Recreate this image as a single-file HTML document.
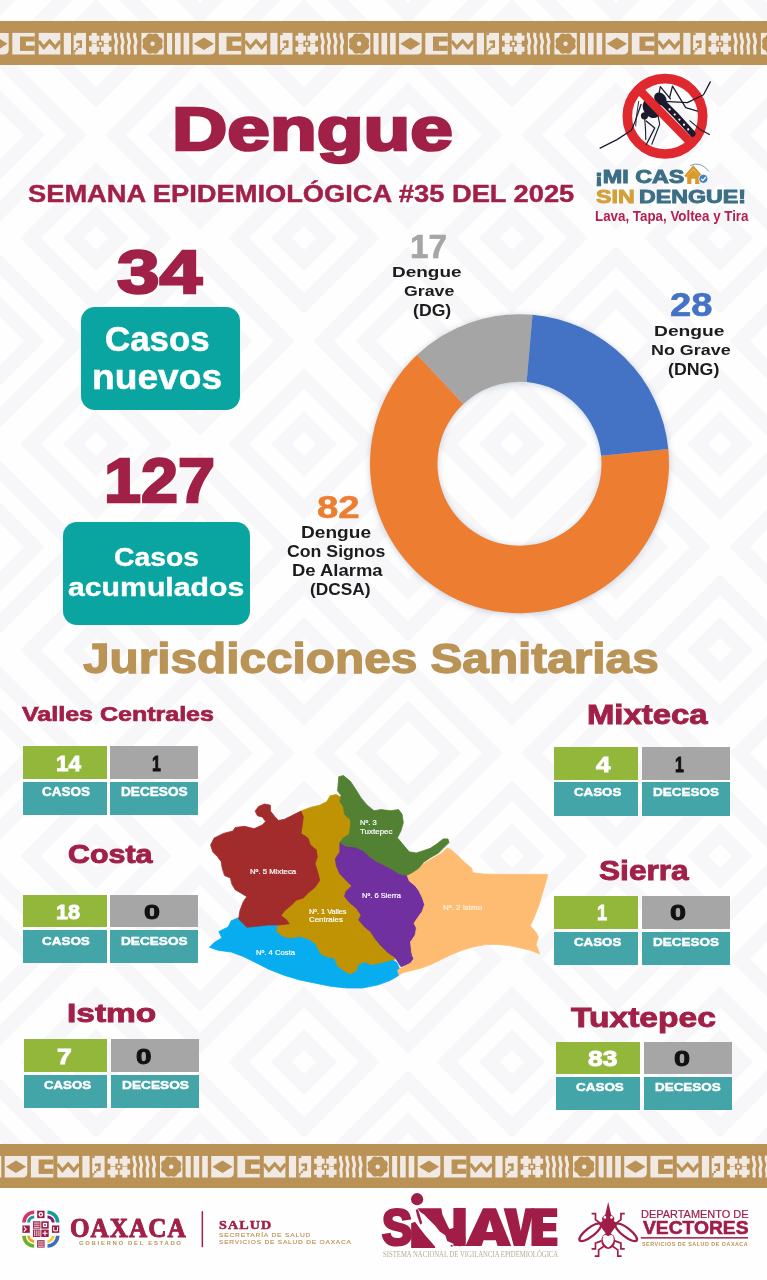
<!DOCTYPE html>
<html lang="es"><head><meta charset="utf-8"><title>Dengue - Semana Epidemiológica 35</title>
<style>
html,body{margin:0;padding:0;background:#fff}
#p{position:relative;width:767px;height:1280px;overflow:hidden;background:#fefefe;font-family:"Liberation Sans",sans-serif;font-kerning:none}
.t{position:absolute;white-space:nowrap;transform-origin:0 0;font-kerning:none;paint-order:stroke fill}
.b{position:absolute}
.band{position:absolute;left:0}
.rb{position:absolute;background:#0aa5a0;border-radius:14px}
svg{position:absolute;left:0;top:0}
</style></head><body>
<div id="p">
<svg width="767" height="1280" viewBox="0 0 767 1280"><defs><pattern id="bgp" x="96" y="32" width="208" height="206" patternUnits="userSpaceOnUse"><path d="M-22.5 0 L0 -22.5 L22.5 0 L0 22.5 Z" fill="none" stroke="#f7f7f9" stroke-width="14.85" stroke-linejoin="miter"/><path d="M-65.5 0 L0 -65.5 L65.5 0 L0 65.5 Z" fill="none" stroke="#f7f7f9" stroke-width="14.85" stroke-linejoin="miter"/><path d="M185.5 0 L208 -22.5 L230.5 0 L208 22.5 Z" fill="none" stroke="#f7f7f9" stroke-width="14.85" stroke-linejoin="miter"/><path d="M142.5 0 L208 -65.5 L273.5 0 L208 65.5 Z" fill="none" stroke="#f7f7f9" stroke-width="14.85" stroke-linejoin="miter"/><path d="M-22.5 206 L0 183.5 L22.5 206 L0 228.5 Z" fill="none" stroke="#f7f7f9" stroke-width="14.85" stroke-linejoin="miter"/><path d="M-65.5 206 L0 140.5 L65.5 206 L0 271.5 Z" fill="none" stroke="#f7f7f9" stroke-width="14.85" stroke-linejoin="miter"/><path d="M185.5 206 L208 183.5 L230.5 206 L208 228.5 Z" fill="none" stroke="#f7f7f9" stroke-width="14.85" stroke-linejoin="miter"/><path d="M142.5 206 L208 140.5 L273.5 206 L208 271.5 Z" fill="none" stroke="#f7f7f9" stroke-width="14.85" stroke-linejoin="miter"/><path d="M61.5 103.0 L104.0 60.5 L146.5 103.0 L104.0 145.5 Z" fill="none" stroke="#f7f7f9" stroke-width="14.85" stroke-linejoin="miter"/><path d="M19.5 103.0 L104.0 18.5 L188.5 103.0 L104.0 187.5 Z" fill="none" stroke="#f7f7f9" stroke-width="14.85" stroke-linejoin="miter"/></pattern></defs><rect width="767" height="1188" fill="url(#bgp)"/></svg>
<svg class="band" style="top:20.5px" width="767" height="44" viewBox="0 0 767 44"><rect width="767" height="44" fill="#ba9256"/><g transform="translate(-220.40,0)"><path d="M0 11.9 H22.6 V28.5 Q22.6 33.5 17.6 33.5 H0 Z" fill="#f1e9e4"/><path d="M1.2 22.7 L11.3 16.4 L21.4 22.7 L11.3 29.0 Z" fill="#ba9256"/><rect x="26.20" y="11.90" width="22.40" height="21.60" fill="#f1e9e4" /><rect x="33.90" y="15.50" width="14.70" height="14.40" fill="#ba9256" /><rect x="39.80" y="20.50" width="8.80" height="4.20" fill="#f1e9e4" /><rect x="52.60" y="11.90" width="21.60" height="21.60" fill="#f1e9e4" /><path d="M52.6 19.9 L57.7 26.4 L63.5 19.9 L69.1 26.4 L74.2 19.9" fill="none" stroke="#ba9256" stroke-width="3.2"/><rect x="77.70" y="11.90" width="7.20" height="21.60" fill="#f1e9e4" /><rect x="87.50" y="11.90" width="12.40" height="21.60" fill="#f1e9e4" /><rect x="87.50" y="11.90" width="2.50" height="2.20" fill="#ba9256" /><rect x="87.50" y="29.10" width="2.20" height="2.20" fill="#ba9256" /><rect x="89.50" y="26.90" width="2.20" height="2.20" fill="#ba9256" /><rect x="91.50" y="24.70" width="2.20" height="2.40" fill="#ba9256" /><rect x="90.20" y="19.50" width="5.50" height="2.60" fill="#ba9256" /><rect x="93.50" y="19.50" width="2.40" height="7.40" fill="#ba9256" /><rect x="87.50" y="31.30" width="1.20" height="2.20" fill="#ba9256" /><rect x="102.90" y="14.60" width="10.50" height="5.10" fill="#f1e9e4" /><rect x="105.60" y="11.90" width="5.10" height="10.50" fill="#f1e9e4" /><rect x="114.90" y="14.60" width="10.50" height="5.10" fill="#f1e9e4" /><rect x="117.60" y="11.90" width="5.10" height="10.50" fill="#f1e9e4" /><rect x="102.90" y="25.70" width="10.50" height="5.10" fill="#f1e9e4" /><rect x="105.60" y="23.00" width="5.10" height="10.50" fill="#f1e9e4" /><rect x="114.90" y="25.70" width="10.50" height="5.10" fill="#f1e9e4" /><rect x="117.60" y="23.00" width="5.10" height="10.50" fill="#f1e9e4" /><rect x="112.05" y="20.60" width="4.20" height="4.20" fill="#ba9256" /><rect x="112.65" y="21.20" width="3.00" height="3.00" fill="#f1e9e4" /><path d="M129.6 11.9 C127.6 16.9 132.2 18.9 130.2 22.9 C128.0 26.9 131.6 28.9 129.6 33.5" fill="none" stroke="#f1e9e4" stroke-width="3.1"/><path d="M135.9 11.9 C133.9 16.9 138.5 18.9 136.5 22.9 C134.3 26.9 137.9 28.9 135.9 33.5" fill="none" stroke="#f1e9e4" stroke-width="3.1"/><path d="M142.4 11.9 C140.4 16.9 145.0 18.9 143.0 22.9 C140.8 26.9 144.4 28.9 142.4 33.5" fill="none" stroke="#f1e9e4" stroke-width="3.1"/><path d="M148.9 11.9 C146.9 16.9 151.5 18.9 149.5 22.9 C147.3 26.9 150.9 28.9 148.9 33.5" fill="none" stroke="#f1e9e4" stroke-width="3.1"/><rect x="155.30" y="11.90" width="22.40" height="21.60" fill="#f1e9e4" /><path d="M166.50 13.30 Q171.32 11.06 173.15 16.05 Q178.14 17.88 175.90 22.70 Q178.14 27.52 173.15 29.35 Q171.32 34.34 166.50 32.10 Q161.68 34.34 159.85 29.35 Q154.86 27.52 157.10 22.70 Q154.86 17.88 159.85 16.05 Q161.68 11.06 166.50 13.30 Z" fill="#ba9256"/><circle cx="166.5" cy="22.7" r="2.2" fill="#f1e9e4"/><path d="M180.9 11.9 H186.0 V33.5 H183.4 Q180.9 33.5 180.9 31.0 Z" fill="#f1e9e4"/><rect x="188.90" y="11.90" width="5.60" height="21.60" fill="#f1e9e4" /><rect x="197.50" y="11.90" width="5.60" height="21.60" fill="#f1e9e4" /></g><g transform="translate(-13.90,0)"><path d="M0 11.9 H22.6 V28.5 Q22.6 33.5 17.6 33.5 H0 Z" fill="#f1e9e4"/><path d="M1.2 22.7 L11.3 16.4 L21.4 22.7 L11.3 29.0 Z" fill="#ba9256"/><rect x="26.20" y="11.90" width="22.40" height="21.60" fill="#f1e9e4" /><rect x="33.90" y="15.50" width="14.70" height="14.40" fill="#ba9256" /><rect x="39.80" y="20.50" width="8.80" height="4.20" fill="#f1e9e4" /><rect x="52.60" y="11.90" width="21.60" height="21.60" fill="#f1e9e4" /><path d="M52.6 19.9 L57.7 26.4 L63.5 19.9 L69.1 26.4 L74.2 19.9" fill="none" stroke="#ba9256" stroke-width="3.2"/><rect x="77.70" y="11.90" width="7.20" height="21.60" fill="#f1e9e4" /><rect x="87.50" y="11.90" width="12.40" height="21.60" fill="#f1e9e4" /><rect x="87.50" y="11.90" width="2.50" height="2.20" fill="#ba9256" /><rect x="87.50" y="29.10" width="2.20" height="2.20" fill="#ba9256" /><rect x="89.50" y="26.90" width="2.20" height="2.20" fill="#ba9256" /><rect x="91.50" y="24.70" width="2.20" height="2.40" fill="#ba9256" /><rect x="90.20" y="19.50" width="5.50" height="2.60" fill="#ba9256" /><rect x="93.50" y="19.50" width="2.40" height="7.40" fill="#ba9256" /><rect x="87.50" y="31.30" width="1.20" height="2.20" fill="#ba9256" /><rect x="102.90" y="14.60" width="10.50" height="5.10" fill="#f1e9e4" /><rect x="105.60" y="11.90" width="5.10" height="10.50" fill="#f1e9e4" /><rect x="114.90" y="14.60" width="10.50" height="5.10" fill="#f1e9e4" /><rect x="117.60" y="11.90" width="5.10" height="10.50" fill="#f1e9e4" /><rect x="102.90" y="25.70" width="10.50" height="5.10" fill="#f1e9e4" /><rect x="105.60" y="23.00" width="5.10" height="10.50" fill="#f1e9e4" /><rect x="114.90" y="25.70" width="10.50" height="5.10" fill="#f1e9e4" /><rect x="117.60" y="23.00" width="5.10" height="10.50" fill="#f1e9e4" /><rect x="112.05" y="20.60" width="4.20" height="4.20" fill="#ba9256" /><rect x="112.65" y="21.20" width="3.00" height="3.00" fill="#f1e9e4" /><path d="M129.6 11.9 C127.6 16.9 132.2 18.9 130.2 22.9 C128.0 26.9 131.6 28.9 129.6 33.5" fill="none" stroke="#f1e9e4" stroke-width="3.1"/><path d="M135.9 11.9 C133.9 16.9 138.5 18.9 136.5 22.9 C134.3 26.9 137.9 28.9 135.9 33.5" fill="none" stroke="#f1e9e4" stroke-width="3.1"/><path d="M142.4 11.9 C140.4 16.9 145.0 18.9 143.0 22.9 C140.8 26.9 144.4 28.9 142.4 33.5" fill="none" stroke="#f1e9e4" stroke-width="3.1"/><path d="M148.9 11.9 C146.9 16.9 151.5 18.9 149.5 22.9 C147.3 26.9 150.9 28.9 148.9 33.5" fill="none" stroke="#f1e9e4" stroke-width="3.1"/><rect x="155.30" y="11.90" width="22.40" height="21.60" fill="#f1e9e4" /><path d="M166.50 13.30 Q171.32 11.06 173.15 16.05 Q178.14 17.88 175.90 22.70 Q178.14 27.52 173.15 29.35 Q171.32 34.34 166.50 32.10 Q161.68 34.34 159.85 29.35 Q154.86 27.52 157.10 22.70 Q154.86 17.88 159.85 16.05 Q161.68 11.06 166.50 13.30 Z" fill="#ba9256"/><circle cx="166.5" cy="22.7" r="2.2" fill="#f1e9e4"/><path d="M180.9 11.9 H186.0 V33.5 H183.4 Q180.9 33.5 180.9 31.0 Z" fill="#f1e9e4"/><rect x="188.90" y="11.90" width="5.60" height="21.60" fill="#f1e9e4" /><rect x="197.50" y="11.90" width="5.60" height="21.60" fill="#f1e9e4" /></g><g transform="translate(192.60,0)"><path d="M0 11.9 H22.6 V28.5 Q22.6 33.5 17.6 33.5 H0 Z" fill="#f1e9e4"/><path d="M1.2 22.7 L11.3 16.4 L21.4 22.7 L11.3 29.0 Z" fill="#ba9256"/><rect x="26.20" y="11.90" width="22.40" height="21.60" fill="#f1e9e4" /><rect x="33.90" y="15.50" width="14.70" height="14.40" fill="#ba9256" /><rect x="39.80" y="20.50" width="8.80" height="4.20" fill="#f1e9e4" /><rect x="52.60" y="11.90" width="21.60" height="21.60" fill="#f1e9e4" /><path d="M52.6 19.9 L57.7 26.4 L63.5 19.9 L69.1 26.4 L74.2 19.9" fill="none" stroke="#ba9256" stroke-width="3.2"/><rect x="77.70" y="11.90" width="7.20" height="21.60" fill="#f1e9e4" /><rect x="87.50" y="11.90" width="12.40" height="21.60" fill="#f1e9e4" /><rect x="87.50" y="11.90" width="2.50" height="2.20" fill="#ba9256" /><rect x="87.50" y="29.10" width="2.20" height="2.20" fill="#ba9256" /><rect x="89.50" y="26.90" width="2.20" height="2.20" fill="#ba9256" /><rect x="91.50" y="24.70" width="2.20" height="2.40" fill="#ba9256" /><rect x="90.20" y="19.50" width="5.50" height="2.60" fill="#ba9256" /><rect x="93.50" y="19.50" width="2.40" height="7.40" fill="#ba9256" /><rect x="87.50" y="31.30" width="1.20" height="2.20" fill="#ba9256" /><rect x="102.90" y="14.60" width="10.50" height="5.10" fill="#f1e9e4" /><rect x="105.60" y="11.90" width="5.10" height="10.50" fill="#f1e9e4" /><rect x="114.90" y="14.60" width="10.50" height="5.10" fill="#f1e9e4" /><rect x="117.60" y="11.90" width="5.10" height="10.50" fill="#f1e9e4" /><rect x="102.90" y="25.70" width="10.50" height="5.10" fill="#f1e9e4" /><rect x="105.60" y="23.00" width="5.10" height="10.50" fill="#f1e9e4" /><rect x="114.90" y="25.70" width="10.50" height="5.10" fill="#f1e9e4" /><rect x="117.60" y="23.00" width="5.10" height="10.50" fill="#f1e9e4" /><rect x="112.05" y="20.60" width="4.20" height="4.20" fill="#ba9256" /><rect x="112.65" y="21.20" width="3.00" height="3.00" fill="#f1e9e4" /><path d="M129.6 11.9 C127.6 16.9 132.2 18.9 130.2 22.9 C128.0 26.9 131.6 28.9 129.6 33.5" fill="none" stroke="#f1e9e4" stroke-width="3.1"/><path d="M135.9 11.9 C133.9 16.9 138.5 18.9 136.5 22.9 C134.3 26.9 137.9 28.9 135.9 33.5" fill="none" stroke="#f1e9e4" stroke-width="3.1"/><path d="M142.4 11.9 C140.4 16.9 145.0 18.9 143.0 22.9 C140.8 26.9 144.4 28.9 142.4 33.5" fill="none" stroke="#f1e9e4" stroke-width="3.1"/><path d="M148.9 11.9 C146.9 16.9 151.5 18.9 149.5 22.9 C147.3 26.9 150.9 28.9 148.9 33.5" fill="none" stroke="#f1e9e4" stroke-width="3.1"/><rect x="155.30" y="11.90" width="22.40" height="21.60" fill="#f1e9e4" /><path d="M166.50 13.30 Q171.32 11.06 173.15 16.05 Q178.14 17.88 175.90 22.70 Q178.14 27.52 173.15 29.35 Q171.32 34.34 166.50 32.10 Q161.68 34.34 159.85 29.35 Q154.86 27.52 157.10 22.70 Q154.86 17.88 159.85 16.05 Q161.68 11.06 166.50 13.30 Z" fill="#ba9256"/><circle cx="166.5" cy="22.7" r="2.2" fill="#f1e9e4"/><path d="M180.9 11.9 H186.0 V33.5 H183.4 Q180.9 33.5 180.9 31.0 Z" fill="#f1e9e4"/><rect x="188.90" y="11.90" width="5.60" height="21.60" fill="#f1e9e4" /><rect x="197.50" y="11.90" width="5.60" height="21.60" fill="#f1e9e4" /></g><g transform="translate(399.10,0)"><path d="M0 11.9 H22.6 V28.5 Q22.6 33.5 17.6 33.5 H0 Z" fill="#f1e9e4"/><path d="M1.2 22.7 L11.3 16.4 L21.4 22.7 L11.3 29.0 Z" fill="#ba9256"/><rect x="26.20" y="11.90" width="22.40" height="21.60" fill="#f1e9e4" /><rect x="33.90" y="15.50" width="14.70" height="14.40" fill="#ba9256" /><rect x="39.80" y="20.50" width="8.80" height="4.20" fill="#f1e9e4" /><rect x="52.60" y="11.90" width="21.60" height="21.60" fill="#f1e9e4" /><path d="M52.6 19.9 L57.7 26.4 L63.5 19.9 L69.1 26.4 L74.2 19.9" fill="none" stroke="#ba9256" stroke-width="3.2"/><rect x="77.70" y="11.90" width="7.20" height="21.60" fill="#f1e9e4" /><rect x="87.50" y="11.90" width="12.40" height="21.60" fill="#f1e9e4" /><rect x="87.50" y="11.90" width="2.50" height="2.20" fill="#ba9256" /><rect x="87.50" y="29.10" width="2.20" height="2.20" fill="#ba9256" /><rect x="89.50" y="26.90" width="2.20" height="2.20" fill="#ba9256" /><rect x="91.50" y="24.70" width="2.20" height="2.40" fill="#ba9256" /><rect x="90.20" y="19.50" width="5.50" height="2.60" fill="#ba9256" /><rect x="93.50" y="19.50" width="2.40" height="7.40" fill="#ba9256" /><rect x="87.50" y="31.30" width="1.20" height="2.20" fill="#ba9256" /><rect x="102.90" y="14.60" width="10.50" height="5.10" fill="#f1e9e4" /><rect x="105.60" y="11.90" width="5.10" height="10.50" fill="#f1e9e4" /><rect x="114.90" y="14.60" width="10.50" height="5.10" fill="#f1e9e4" /><rect x="117.60" y="11.90" width="5.10" height="10.50" fill="#f1e9e4" /><rect x="102.90" y="25.70" width="10.50" height="5.10" fill="#f1e9e4" /><rect x="105.60" y="23.00" width="5.10" height="10.50" fill="#f1e9e4" /><rect x="114.90" y="25.70" width="10.50" height="5.10" fill="#f1e9e4" /><rect x="117.60" y="23.00" width="5.10" height="10.50" fill="#f1e9e4" /><rect x="112.05" y="20.60" width="4.20" height="4.20" fill="#ba9256" /><rect x="112.65" y="21.20" width="3.00" height="3.00" fill="#f1e9e4" /><path d="M129.6 11.9 C127.6 16.9 132.2 18.9 130.2 22.9 C128.0 26.9 131.6 28.9 129.6 33.5" fill="none" stroke="#f1e9e4" stroke-width="3.1"/><path d="M135.9 11.9 C133.9 16.9 138.5 18.9 136.5 22.9 C134.3 26.9 137.9 28.9 135.9 33.5" fill="none" stroke="#f1e9e4" stroke-width="3.1"/><path d="M142.4 11.9 C140.4 16.9 145.0 18.9 143.0 22.9 C140.8 26.9 144.4 28.9 142.4 33.5" fill="none" stroke="#f1e9e4" stroke-width="3.1"/><path d="M148.9 11.9 C146.9 16.9 151.5 18.9 149.5 22.9 C147.3 26.9 150.9 28.9 148.9 33.5" fill="none" stroke="#f1e9e4" stroke-width="3.1"/><rect x="155.30" y="11.90" width="22.40" height="21.60" fill="#f1e9e4" /><path d="M166.50 13.30 Q171.32 11.06 173.15 16.05 Q178.14 17.88 175.90 22.70 Q178.14 27.52 173.15 29.35 Q171.32 34.34 166.50 32.10 Q161.68 34.34 159.85 29.35 Q154.86 27.52 157.10 22.70 Q154.86 17.88 159.85 16.05 Q161.68 11.06 166.50 13.30 Z" fill="#ba9256"/><circle cx="166.5" cy="22.7" r="2.2" fill="#f1e9e4"/><path d="M180.9 11.9 H186.0 V33.5 H183.4 Q180.9 33.5 180.9 31.0 Z" fill="#f1e9e4"/><rect x="188.90" y="11.90" width="5.60" height="21.60" fill="#f1e9e4" /><rect x="197.50" y="11.90" width="5.60" height="21.60" fill="#f1e9e4" /></g><g transform="translate(605.60,0)"><path d="M0 11.9 H22.6 V28.5 Q22.6 33.5 17.6 33.5 H0 Z" fill="#f1e9e4"/><path d="M1.2 22.7 L11.3 16.4 L21.4 22.7 L11.3 29.0 Z" fill="#ba9256"/><rect x="26.20" y="11.90" width="22.40" height="21.60" fill="#f1e9e4" /><rect x="33.90" y="15.50" width="14.70" height="14.40" fill="#ba9256" /><rect x="39.80" y="20.50" width="8.80" height="4.20" fill="#f1e9e4" /><rect x="52.60" y="11.90" width="21.60" height="21.60" fill="#f1e9e4" /><path d="M52.6 19.9 L57.7 26.4 L63.5 19.9 L69.1 26.4 L74.2 19.9" fill="none" stroke="#ba9256" stroke-width="3.2"/><rect x="77.70" y="11.90" width="7.20" height="21.60" fill="#f1e9e4" /><rect x="87.50" y="11.90" width="12.40" height="21.60" fill="#f1e9e4" /><rect x="87.50" y="11.90" width="2.50" height="2.20" fill="#ba9256" /><rect x="87.50" y="29.10" width="2.20" height="2.20" fill="#ba9256" /><rect x="89.50" y="26.90" width="2.20" height="2.20" fill="#ba9256" /><rect x="91.50" y="24.70" width="2.20" height="2.40" fill="#ba9256" /><rect x="90.20" y="19.50" width="5.50" height="2.60" fill="#ba9256" /><rect x="93.50" y="19.50" width="2.40" height="7.40" fill="#ba9256" /><rect x="87.50" y="31.30" width="1.20" height="2.20" fill="#ba9256" /><rect x="102.90" y="14.60" width="10.50" height="5.10" fill="#f1e9e4" /><rect x="105.60" y="11.90" width="5.10" height="10.50" fill="#f1e9e4" /><rect x="114.90" y="14.60" width="10.50" height="5.10" fill="#f1e9e4" /><rect x="117.60" y="11.90" width="5.10" height="10.50" fill="#f1e9e4" /><rect x="102.90" y="25.70" width="10.50" height="5.10" fill="#f1e9e4" /><rect x="105.60" y="23.00" width="5.10" height="10.50" fill="#f1e9e4" /><rect x="114.90" y="25.70" width="10.50" height="5.10" fill="#f1e9e4" /><rect x="117.60" y="23.00" width="5.10" height="10.50" fill="#f1e9e4" /><rect x="112.05" y="20.60" width="4.20" height="4.20" fill="#ba9256" /><rect x="112.65" y="21.20" width="3.00" height="3.00" fill="#f1e9e4" /><path d="M129.6 11.9 C127.6 16.9 132.2 18.9 130.2 22.9 C128.0 26.9 131.6 28.9 129.6 33.5" fill="none" stroke="#f1e9e4" stroke-width="3.1"/><path d="M135.9 11.9 C133.9 16.9 138.5 18.9 136.5 22.9 C134.3 26.9 137.9 28.9 135.9 33.5" fill="none" stroke="#f1e9e4" stroke-width="3.1"/><path d="M142.4 11.9 C140.4 16.9 145.0 18.9 143.0 22.9 C140.8 26.9 144.4 28.9 142.4 33.5" fill="none" stroke="#f1e9e4" stroke-width="3.1"/><path d="M148.9 11.9 C146.9 16.9 151.5 18.9 149.5 22.9 C147.3 26.9 150.9 28.9 148.9 33.5" fill="none" stroke="#f1e9e4" stroke-width="3.1"/><rect x="155.30" y="11.90" width="22.40" height="21.60" fill="#f1e9e4" /><path d="M166.50 13.30 Q171.32 11.06 173.15 16.05 Q178.14 17.88 175.90 22.70 Q178.14 27.52 173.15 29.35 Q171.32 34.34 166.50 32.10 Q161.68 34.34 159.85 29.35 Q154.86 27.52 157.10 22.70 Q154.86 17.88 159.85 16.05 Q161.68 11.06 166.50 13.30 Z" fill="#ba9256"/><circle cx="166.5" cy="22.7" r="2.2" fill="#f1e9e4"/><path d="M180.9 11.9 H186.0 V33.5 H183.4 Q180.9 33.5 180.9 31.0 Z" fill="#f1e9e4"/><rect x="188.90" y="11.90" width="5.60" height="21.60" fill="#f1e9e4" /><rect x="197.50" y="11.90" width="5.60" height="21.60" fill="#f1e9e4" /></g><g transform="translate(812.10,0)"><path d="M0 11.9 H22.6 V28.5 Q22.6 33.5 17.6 33.5 H0 Z" fill="#f1e9e4"/><path d="M1.2 22.7 L11.3 16.4 L21.4 22.7 L11.3 29.0 Z" fill="#ba9256"/><rect x="26.20" y="11.90" width="22.40" height="21.60" fill="#f1e9e4" /><rect x="33.90" y="15.50" width="14.70" height="14.40" fill="#ba9256" /><rect x="39.80" y="20.50" width="8.80" height="4.20" fill="#f1e9e4" /><rect x="52.60" y="11.90" width="21.60" height="21.60" fill="#f1e9e4" /><path d="M52.6 19.9 L57.7 26.4 L63.5 19.9 L69.1 26.4 L74.2 19.9" fill="none" stroke="#ba9256" stroke-width="3.2"/><rect x="77.70" y="11.90" width="7.20" height="21.60" fill="#f1e9e4" /><rect x="87.50" y="11.90" width="12.40" height="21.60" fill="#f1e9e4" /><rect x="87.50" y="11.90" width="2.50" height="2.20" fill="#ba9256" /><rect x="87.50" y="29.10" width="2.20" height="2.20" fill="#ba9256" /><rect x="89.50" y="26.90" width="2.20" height="2.20" fill="#ba9256" /><rect x="91.50" y="24.70" width="2.20" height="2.40" fill="#ba9256" /><rect x="90.20" y="19.50" width="5.50" height="2.60" fill="#ba9256" /><rect x="93.50" y="19.50" width="2.40" height="7.40" fill="#ba9256" /><rect x="87.50" y="31.30" width="1.20" height="2.20" fill="#ba9256" /><rect x="102.90" y="14.60" width="10.50" height="5.10" fill="#f1e9e4" /><rect x="105.60" y="11.90" width="5.10" height="10.50" fill="#f1e9e4" /><rect x="114.90" y="14.60" width="10.50" height="5.10" fill="#f1e9e4" /><rect x="117.60" y="11.90" width="5.10" height="10.50" fill="#f1e9e4" /><rect x="102.90" y="25.70" width="10.50" height="5.10" fill="#f1e9e4" /><rect x="105.60" y="23.00" width="5.10" height="10.50" fill="#f1e9e4" /><rect x="114.90" y="25.70" width="10.50" height="5.10" fill="#f1e9e4" /><rect x="117.60" y="23.00" width="5.10" height="10.50" fill="#f1e9e4" /><rect x="112.05" y="20.60" width="4.20" height="4.20" fill="#ba9256" /><rect x="112.65" y="21.20" width="3.00" height="3.00" fill="#f1e9e4" /><path d="M129.6 11.9 C127.6 16.9 132.2 18.9 130.2 22.9 C128.0 26.9 131.6 28.9 129.6 33.5" fill="none" stroke="#f1e9e4" stroke-width="3.1"/><path d="M135.9 11.9 C133.9 16.9 138.5 18.9 136.5 22.9 C134.3 26.9 137.9 28.9 135.9 33.5" fill="none" stroke="#f1e9e4" stroke-width="3.1"/><path d="M142.4 11.9 C140.4 16.9 145.0 18.9 143.0 22.9 C140.8 26.9 144.4 28.9 142.4 33.5" fill="none" stroke="#f1e9e4" stroke-width="3.1"/><path d="M148.9 11.9 C146.9 16.9 151.5 18.9 149.5 22.9 C147.3 26.9 150.9 28.9 148.9 33.5" fill="none" stroke="#f1e9e4" stroke-width="3.1"/><rect x="155.30" y="11.90" width="22.40" height="21.60" fill="#f1e9e4" /><path d="M166.50 13.30 Q171.32 11.06 173.15 16.05 Q178.14 17.88 175.90 22.70 Q178.14 27.52 173.15 29.35 Q171.32 34.34 166.50 32.10 Q161.68 34.34 159.85 29.35 Q154.86 27.52 157.10 22.70 Q154.86 17.88 159.85 16.05 Q161.68 11.06 166.50 13.30 Z" fill="#ba9256"/><circle cx="166.5" cy="22.7" r="2.2" fill="#f1e9e4"/><path d="M180.9 11.9 H186.0 V33.5 H183.4 Q180.9 33.5 180.9 31.0 Z" fill="#f1e9e4"/><rect x="188.90" y="11.90" width="5.60" height="21.60" fill="#f1e9e4" /><rect x="197.50" y="11.90" width="5.60" height="21.60" fill="#f1e9e4" /></g></svg>
<svg class="band" style="top:1144px" width="767" height="44" viewBox="0 0 767 44"><rect width="767" height="44" fill="#ba9256"/><g transform="translate(-201.80,0)"><path d="M0 11.9 H22.6 V28.5 Q22.6 33.5 17.6 33.5 H0 Z" fill="#f1e9e4"/><path d="M1.2 22.7 L11.3 16.4 L21.4 22.7 L11.3 29.0 Z" fill="#ba9256"/><rect x="26.20" y="11.90" width="22.40" height="21.60" fill="#f1e9e4" /><rect x="33.90" y="15.50" width="14.70" height="14.40" fill="#ba9256" /><rect x="39.80" y="20.50" width="8.80" height="4.20" fill="#f1e9e4" /><rect x="52.60" y="11.90" width="21.60" height="21.60" fill="#f1e9e4" /><path d="M52.6 19.9 L57.7 26.4 L63.5 19.9 L69.1 26.4 L74.2 19.9" fill="none" stroke="#ba9256" stroke-width="3.2"/><rect x="77.70" y="11.90" width="7.20" height="21.60" fill="#f1e9e4" /><rect x="87.50" y="11.90" width="12.40" height="21.60" fill="#f1e9e4" /><rect x="87.50" y="11.90" width="2.50" height="2.20" fill="#ba9256" /><rect x="87.50" y="29.10" width="2.20" height="2.20" fill="#ba9256" /><rect x="89.50" y="26.90" width="2.20" height="2.20" fill="#ba9256" /><rect x="91.50" y="24.70" width="2.20" height="2.40" fill="#ba9256" /><rect x="90.20" y="19.50" width="5.50" height="2.60" fill="#ba9256" /><rect x="93.50" y="19.50" width="2.40" height="7.40" fill="#ba9256" /><rect x="87.50" y="31.30" width="1.20" height="2.20" fill="#ba9256" /><rect x="102.90" y="14.60" width="10.50" height="5.10" fill="#f1e9e4" /><rect x="105.60" y="11.90" width="5.10" height="10.50" fill="#f1e9e4" /><rect x="114.90" y="14.60" width="10.50" height="5.10" fill="#f1e9e4" /><rect x="117.60" y="11.90" width="5.10" height="10.50" fill="#f1e9e4" /><rect x="102.90" y="25.70" width="10.50" height="5.10" fill="#f1e9e4" /><rect x="105.60" y="23.00" width="5.10" height="10.50" fill="#f1e9e4" /><rect x="114.90" y="25.70" width="10.50" height="5.10" fill="#f1e9e4" /><rect x="117.60" y="23.00" width="5.10" height="10.50" fill="#f1e9e4" /><rect x="112.05" y="20.60" width="4.20" height="4.20" fill="#ba9256" /><rect x="112.65" y="21.20" width="3.00" height="3.00" fill="#f1e9e4" /><path d="M129.6 11.9 C127.6 16.9 132.2 18.9 130.2 22.9 C128.0 26.9 131.6 28.9 129.6 33.5" fill="none" stroke="#f1e9e4" stroke-width="3.1"/><path d="M135.9 11.9 C133.9 16.9 138.5 18.9 136.5 22.9 C134.3 26.9 137.9 28.9 135.9 33.5" fill="none" stroke="#f1e9e4" stroke-width="3.1"/><path d="M142.4 11.9 C140.4 16.9 145.0 18.9 143.0 22.9 C140.8 26.9 144.4 28.9 142.4 33.5" fill="none" stroke="#f1e9e4" stroke-width="3.1"/><path d="M148.9 11.9 C146.9 16.9 151.5 18.9 149.5 22.9 C147.3 26.9 150.9 28.9 148.9 33.5" fill="none" stroke="#f1e9e4" stroke-width="3.1"/><rect x="155.30" y="11.90" width="22.40" height="21.60" fill="#f1e9e4" /><path d="M166.50 13.30 Q171.32 11.06 173.15 16.05 Q178.14 17.88 175.90 22.70 Q178.14 27.52 173.15 29.35 Q171.32 34.34 166.50 32.10 Q161.68 34.34 159.85 29.35 Q154.86 27.52 157.10 22.70 Q154.86 17.88 159.85 16.05 Q161.68 11.06 166.50 13.30 Z" fill="#ba9256"/><circle cx="166.5" cy="22.7" r="2.2" fill="#f1e9e4"/><path d="M180.9 11.9 H186.0 V33.5 H183.4 Q180.9 33.5 180.9 31.0 Z" fill="#f1e9e4"/><rect x="188.90" y="11.90" width="5.60" height="21.60" fill="#f1e9e4" /><rect x="197.50" y="11.90" width="5.60" height="21.60" fill="#f1e9e4" /></g><g transform="translate(4.70,0)"><path d="M0 11.9 H22.6 V28.5 Q22.6 33.5 17.6 33.5 H0 Z" fill="#f1e9e4"/><path d="M1.2 22.7 L11.3 16.4 L21.4 22.7 L11.3 29.0 Z" fill="#ba9256"/><rect x="26.20" y="11.90" width="22.40" height="21.60" fill="#f1e9e4" /><rect x="33.90" y="15.50" width="14.70" height="14.40" fill="#ba9256" /><rect x="39.80" y="20.50" width="8.80" height="4.20" fill="#f1e9e4" /><rect x="52.60" y="11.90" width="21.60" height="21.60" fill="#f1e9e4" /><path d="M52.6 19.9 L57.7 26.4 L63.5 19.9 L69.1 26.4 L74.2 19.9" fill="none" stroke="#ba9256" stroke-width="3.2"/><rect x="77.70" y="11.90" width="7.20" height="21.60" fill="#f1e9e4" /><rect x="87.50" y="11.90" width="12.40" height="21.60" fill="#f1e9e4" /><rect x="87.50" y="11.90" width="2.50" height="2.20" fill="#ba9256" /><rect x="87.50" y="29.10" width="2.20" height="2.20" fill="#ba9256" /><rect x="89.50" y="26.90" width="2.20" height="2.20" fill="#ba9256" /><rect x="91.50" y="24.70" width="2.20" height="2.40" fill="#ba9256" /><rect x="90.20" y="19.50" width="5.50" height="2.60" fill="#ba9256" /><rect x="93.50" y="19.50" width="2.40" height="7.40" fill="#ba9256" /><rect x="87.50" y="31.30" width="1.20" height="2.20" fill="#ba9256" /><rect x="102.90" y="14.60" width="10.50" height="5.10" fill="#f1e9e4" /><rect x="105.60" y="11.90" width="5.10" height="10.50" fill="#f1e9e4" /><rect x="114.90" y="14.60" width="10.50" height="5.10" fill="#f1e9e4" /><rect x="117.60" y="11.90" width="5.10" height="10.50" fill="#f1e9e4" /><rect x="102.90" y="25.70" width="10.50" height="5.10" fill="#f1e9e4" /><rect x="105.60" y="23.00" width="5.10" height="10.50" fill="#f1e9e4" /><rect x="114.90" y="25.70" width="10.50" height="5.10" fill="#f1e9e4" /><rect x="117.60" y="23.00" width="5.10" height="10.50" fill="#f1e9e4" /><rect x="112.05" y="20.60" width="4.20" height="4.20" fill="#ba9256" /><rect x="112.65" y="21.20" width="3.00" height="3.00" fill="#f1e9e4" /><path d="M129.6 11.9 C127.6 16.9 132.2 18.9 130.2 22.9 C128.0 26.9 131.6 28.9 129.6 33.5" fill="none" stroke="#f1e9e4" stroke-width="3.1"/><path d="M135.9 11.9 C133.9 16.9 138.5 18.9 136.5 22.9 C134.3 26.9 137.9 28.9 135.9 33.5" fill="none" stroke="#f1e9e4" stroke-width="3.1"/><path d="M142.4 11.9 C140.4 16.9 145.0 18.9 143.0 22.9 C140.8 26.9 144.4 28.9 142.4 33.5" fill="none" stroke="#f1e9e4" stroke-width="3.1"/><path d="M148.9 11.9 C146.9 16.9 151.5 18.9 149.5 22.9 C147.3 26.9 150.9 28.9 148.9 33.5" fill="none" stroke="#f1e9e4" stroke-width="3.1"/><rect x="155.30" y="11.90" width="22.40" height="21.60" fill="#f1e9e4" /><path d="M166.50 13.30 Q171.32 11.06 173.15 16.05 Q178.14 17.88 175.90 22.70 Q178.14 27.52 173.15 29.35 Q171.32 34.34 166.50 32.10 Q161.68 34.34 159.85 29.35 Q154.86 27.52 157.10 22.70 Q154.86 17.88 159.85 16.05 Q161.68 11.06 166.50 13.30 Z" fill="#ba9256"/><circle cx="166.5" cy="22.7" r="2.2" fill="#f1e9e4"/><path d="M180.9 11.9 H186.0 V33.5 H183.4 Q180.9 33.5 180.9 31.0 Z" fill="#f1e9e4"/><rect x="188.90" y="11.90" width="5.60" height="21.60" fill="#f1e9e4" /><rect x="197.50" y="11.90" width="5.60" height="21.60" fill="#f1e9e4" /></g><g transform="translate(211.20,0)"><path d="M0 11.9 H22.6 V28.5 Q22.6 33.5 17.6 33.5 H0 Z" fill="#f1e9e4"/><path d="M1.2 22.7 L11.3 16.4 L21.4 22.7 L11.3 29.0 Z" fill="#ba9256"/><rect x="26.20" y="11.90" width="22.40" height="21.60" fill="#f1e9e4" /><rect x="33.90" y="15.50" width="14.70" height="14.40" fill="#ba9256" /><rect x="39.80" y="20.50" width="8.80" height="4.20" fill="#f1e9e4" /><rect x="52.60" y="11.90" width="21.60" height="21.60" fill="#f1e9e4" /><path d="M52.6 19.9 L57.7 26.4 L63.5 19.9 L69.1 26.4 L74.2 19.9" fill="none" stroke="#ba9256" stroke-width="3.2"/><rect x="77.70" y="11.90" width="7.20" height="21.60" fill="#f1e9e4" /><rect x="87.50" y="11.90" width="12.40" height="21.60" fill="#f1e9e4" /><rect x="87.50" y="11.90" width="2.50" height="2.20" fill="#ba9256" /><rect x="87.50" y="29.10" width="2.20" height="2.20" fill="#ba9256" /><rect x="89.50" y="26.90" width="2.20" height="2.20" fill="#ba9256" /><rect x="91.50" y="24.70" width="2.20" height="2.40" fill="#ba9256" /><rect x="90.20" y="19.50" width="5.50" height="2.60" fill="#ba9256" /><rect x="93.50" y="19.50" width="2.40" height="7.40" fill="#ba9256" /><rect x="87.50" y="31.30" width="1.20" height="2.20" fill="#ba9256" /><rect x="102.90" y="14.60" width="10.50" height="5.10" fill="#f1e9e4" /><rect x="105.60" y="11.90" width="5.10" height="10.50" fill="#f1e9e4" /><rect x="114.90" y="14.60" width="10.50" height="5.10" fill="#f1e9e4" /><rect x="117.60" y="11.90" width="5.10" height="10.50" fill="#f1e9e4" /><rect x="102.90" y="25.70" width="10.50" height="5.10" fill="#f1e9e4" /><rect x="105.60" y="23.00" width="5.10" height="10.50" fill="#f1e9e4" /><rect x="114.90" y="25.70" width="10.50" height="5.10" fill="#f1e9e4" /><rect x="117.60" y="23.00" width="5.10" height="10.50" fill="#f1e9e4" /><rect x="112.05" y="20.60" width="4.20" height="4.20" fill="#ba9256" /><rect x="112.65" y="21.20" width="3.00" height="3.00" fill="#f1e9e4" /><path d="M129.6 11.9 C127.6 16.9 132.2 18.9 130.2 22.9 C128.0 26.9 131.6 28.9 129.6 33.5" fill="none" stroke="#f1e9e4" stroke-width="3.1"/><path d="M135.9 11.9 C133.9 16.9 138.5 18.9 136.5 22.9 C134.3 26.9 137.9 28.9 135.9 33.5" fill="none" stroke="#f1e9e4" stroke-width="3.1"/><path d="M142.4 11.9 C140.4 16.9 145.0 18.9 143.0 22.9 C140.8 26.9 144.4 28.9 142.4 33.5" fill="none" stroke="#f1e9e4" stroke-width="3.1"/><path d="M148.9 11.9 C146.9 16.9 151.5 18.9 149.5 22.9 C147.3 26.9 150.9 28.9 148.9 33.5" fill="none" stroke="#f1e9e4" stroke-width="3.1"/><rect x="155.30" y="11.90" width="22.40" height="21.60" fill="#f1e9e4" /><path d="M166.50 13.30 Q171.32 11.06 173.15 16.05 Q178.14 17.88 175.90 22.70 Q178.14 27.52 173.15 29.35 Q171.32 34.34 166.50 32.10 Q161.68 34.34 159.85 29.35 Q154.86 27.52 157.10 22.70 Q154.86 17.88 159.85 16.05 Q161.68 11.06 166.50 13.30 Z" fill="#ba9256"/><circle cx="166.5" cy="22.7" r="2.2" fill="#f1e9e4"/><path d="M180.9 11.9 H186.0 V33.5 H183.4 Q180.9 33.5 180.9 31.0 Z" fill="#f1e9e4"/><rect x="188.90" y="11.90" width="5.60" height="21.60" fill="#f1e9e4" /><rect x="197.50" y="11.90" width="5.60" height="21.60" fill="#f1e9e4" /></g><g transform="translate(417.70,0)"><path d="M0 11.9 H22.6 V28.5 Q22.6 33.5 17.6 33.5 H0 Z" fill="#f1e9e4"/><path d="M1.2 22.7 L11.3 16.4 L21.4 22.7 L11.3 29.0 Z" fill="#ba9256"/><rect x="26.20" y="11.90" width="22.40" height="21.60" fill="#f1e9e4" /><rect x="33.90" y="15.50" width="14.70" height="14.40" fill="#ba9256" /><rect x="39.80" y="20.50" width="8.80" height="4.20" fill="#f1e9e4" /><rect x="52.60" y="11.90" width="21.60" height="21.60" fill="#f1e9e4" /><path d="M52.6 19.9 L57.7 26.4 L63.5 19.9 L69.1 26.4 L74.2 19.9" fill="none" stroke="#ba9256" stroke-width="3.2"/><rect x="77.70" y="11.90" width="7.20" height="21.60" fill="#f1e9e4" /><rect x="87.50" y="11.90" width="12.40" height="21.60" fill="#f1e9e4" /><rect x="87.50" y="11.90" width="2.50" height="2.20" fill="#ba9256" /><rect x="87.50" y="29.10" width="2.20" height="2.20" fill="#ba9256" /><rect x="89.50" y="26.90" width="2.20" height="2.20" fill="#ba9256" /><rect x="91.50" y="24.70" width="2.20" height="2.40" fill="#ba9256" /><rect x="90.20" y="19.50" width="5.50" height="2.60" fill="#ba9256" /><rect x="93.50" y="19.50" width="2.40" height="7.40" fill="#ba9256" /><rect x="87.50" y="31.30" width="1.20" height="2.20" fill="#ba9256" /><rect x="102.90" y="14.60" width="10.50" height="5.10" fill="#f1e9e4" /><rect x="105.60" y="11.90" width="5.10" height="10.50" fill="#f1e9e4" /><rect x="114.90" y="14.60" width="10.50" height="5.10" fill="#f1e9e4" /><rect x="117.60" y="11.90" width="5.10" height="10.50" fill="#f1e9e4" /><rect x="102.90" y="25.70" width="10.50" height="5.10" fill="#f1e9e4" /><rect x="105.60" y="23.00" width="5.10" height="10.50" fill="#f1e9e4" /><rect x="114.90" y="25.70" width="10.50" height="5.10" fill="#f1e9e4" /><rect x="117.60" y="23.00" width="5.10" height="10.50" fill="#f1e9e4" /><rect x="112.05" y="20.60" width="4.20" height="4.20" fill="#ba9256" /><rect x="112.65" y="21.20" width="3.00" height="3.00" fill="#f1e9e4" /><path d="M129.6 11.9 C127.6 16.9 132.2 18.9 130.2 22.9 C128.0 26.9 131.6 28.9 129.6 33.5" fill="none" stroke="#f1e9e4" stroke-width="3.1"/><path d="M135.9 11.9 C133.9 16.9 138.5 18.9 136.5 22.9 C134.3 26.9 137.9 28.9 135.9 33.5" fill="none" stroke="#f1e9e4" stroke-width="3.1"/><path d="M142.4 11.9 C140.4 16.9 145.0 18.9 143.0 22.9 C140.8 26.9 144.4 28.9 142.4 33.5" fill="none" stroke="#f1e9e4" stroke-width="3.1"/><path d="M148.9 11.9 C146.9 16.9 151.5 18.9 149.5 22.9 C147.3 26.9 150.9 28.9 148.9 33.5" fill="none" stroke="#f1e9e4" stroke-width="3.1"/><rect x="155.30" y="11.90" width="22.40" height="21.60" fill="#f1e9e4" /><path d="M166.50 13.30 Q171.32 11.06 173.15 16.05 Q178.14 17.88 175.90 22.70 Q178.14 27.52 173.15 29.35 Q171.32 34.34 166.50 32.10 Q161.68 34.34 159.85 29.35 Q154.86 27.52 157.10 22.70 Q154.86 17.88 159.85 16.05 Q161.68 11.06 166.50 13.30 Z" fill="#ba9256"/><circle cx="166.5" cy="22.7" r="2.2" fill="#f1e9e4"/><path d="M180.9 11.9 H186.0 V33.5 H183.4 Q180.9 33.5 180.9 31.0 Z" fill="#f1e9e4"/><rect x="188.90" y="11.90" width="5.60" height="21.60" fill="#f1e9e4" /><rect x="197.50" y="11.90" width="5.60" height="21.60" fill="#f1e9e4" /></g><g transform="translate(624.20,0)"><path d="M0 11.9 H22.6 V28.5 Q22.6 33.5 17.6 33.5 H0 Z" fill="#f1e9e4"/><path d="M1.2 22.7 L11.3 16.4 L21.4 22.7 L11.3 29.0 Z" fill="#ba9256"/><rect x="26.20" y="11.90" width="22.40" height="21.60" fill="#f1e9e4" /><rect x="33.90" y="15.50" width="14.70" height="14.40" fill="#ba9256" /><rect x="39.80" y="20.50" width="8.80" height="4.20" fill="#f1e9e4" /><rect x="52.60" y="11.90" width="21.60" height="21.60" fill="#f1e9e4" /><path d="M52.6 19.9 L57.7 26.4 L63.5 19.9 L69.1 26.4 L74.2 19.9" fill="none" stroke="#ba9256" stroke-width="3.2"/><rect x="77.70" y="11.90" width="7.20" height="21.60" fill="#f1e9e4" /><rect x="87.50" y="11.90" width="12.40" height="21.60" fill="#f1e9e4" /><rect x="87.50" y="11.90" width="2.50" height="2.20" fill="#ba9256" /><rect x="87.50" y="29.10" width="2.20" height="2.20" fill="#ba9256" /><rect x="89.50" y="26.90" width="2.20" height="2.20" fill="#ba9256" /><rect x="91.50" y="24.70" width="2.20" height="2.40" fill="#ba9256" /><rect x="90.20" y="19.50" width="5.50" height="2.60" fill="#ba9256" /><rect x="93.50" y="19.50" width="2.40" height="7.40" fill="#ba9256" /><rect x="87.50" y="31.30" width="1.20" height="2.20" fill="#ba9256" /><rect x="102.90" y="14.60" width="10.50" height="5.10" fill="#f1e9e4" /><rect x="105.60" y="11.90" width="5.10" height="10.50" fill="#f1e9e4" /><rect x="114.90" y="14.60" width="10.50" height="5.10" fill="#f1e9e4" /><rect x="117.60" y="11.90" width="5.10" height="10.50" fill="#f1e9e4" /><rect x="102.90" y="25.70" width="10.50" height="5.10" fill="#f1e9e4" /><rect x="105.60" y="23.00" width="5.10" height="10.50" fill="#f1e9e4" /><rect x="114.90" y="25.70" width="10.50" height="5.10" fill="#f1e9e4" /><rect x="117.60" y="23.00" width="5.10" height="10.50" fill="#f1e9e4" /><rect x="112.05" y="20.60" width="4.20" height="4.20" fill="#ba9256" /><rect x="112.65" y="21.20" width="3.00" height="3.00" fill="#f1e9e4" /><path d="M129.6 11.9 C127.6 16.9 132.2 18.9 130.2 22.9 C128.0 26.9 131.6 28.9 129.6 33.5" fill="none" stroke="#f1e9e4" stroke-width="3.1"/><path d="M135.9 11.9 C133.9 16.9 138.5 18.9 136.5 22.9 C134.3 26.9 137.9 28.9 135.9 33.5" fill="none" stroke="#f1e9e4" stroke-width="3.1"/><path d="M142.4 11.9 C140.4 16.9 145.0 18.9 143.0 22.9 C140.8 26.9 144.4 28.9 142.4 33.5" fill="none" stroke="#f1e9e4" stroke-width="3.1"/><path d="M148.9 11.9 C146.9 16.9 151.5 18.9 149.5 22.9 C147.3 26.9 150.9 28.9 148.9 33.5" fill="none" stroke="#f1e9e4" stroke-width="3.1"/><rect x="155.30" y="11.90" width="22.40" height="21.60" fill="#f1e9e4" /><path d="M166.50 13.30 Q171.32 11.06 173.15 16.05 Q178.14 17.88 175.90 22.70 Q178.14 27.52 173.15 29.35 Q171.32 34.34 166.50 32.10 Q161.68 34.34 159.85 29.35 Q154.86 27.52 157.10 22.70 Q154.86 17.88 159.85 16.05 Q161.68 11.06 166.50 13.30 Z" fill="#ba9256"/><circle cx="166.5" cy="22.7" r="2.2" fill="#f1e9e4"/><path d="M180.9 11.9 H186.0 V33.5 H183.4 Q180.9 33.5 180.9 31.0 Z" fill="#f1e9e4"/><rect x="188.90" y="11.90" width="5.60" height="21.60" fill="#f1e9e4" /><rect x="197.50" y="11.90" width="5.60" height="21.60" fill="#f1e9e4" /></g><g transform="translate(830.70,0)"><path d="M0 11.9 H22.6 V28.5 Q22.6 33.5 17.6 33.5 H0 Z" fill="#f1e9e4"/><path d="M1.2 22.7 L11.3 16.4 L21.4 22.7 L11.3 29.0 Z" fill="#ba9256"/><rect x="26.20" y="11.90" width="22.40" height="21.60" fill="#f1e9e4" /><rect x="33.90" y="15.50" width="14.70" height="14.40" fill="#ba9256" /><rect x="39.80" y="20.50" width="8.80" height="4.20" fill="#f1e9e4" /><rect x="52.60" y="11.90" width="21.60" height="21.60" fill="#f1e9e4" /><path d="M52.6 19.9 L57.7 26.4 L63.5 19.9 L69.1 26.4 L74.2 19.9" fill="none" stroke="#ba9256" stroke-width="3.2"/><rect x="77.70" y="11.90" width="7.20" height="21.60" fill="#f1e9e4" /><rect x="87.50" y="11.90" width="12.40" height="21.60" fill="#f1e9e4" /><rect x="87.50" y="11.90" width="2.50" height="2.20" fill="#ba9256" /><rect x="87.50" y="29.10" width="2.20" height="2.20" fill="#ba9256" /><rect x="89.50" y="26.90" width="2.20" height="2.20" fill="#ba9256" /><rect x="91.50" y="24.70" width="2.20" height="2.40" fill="#ba9256" /><rect x="90.20" y="19.50" width="5.50" height="2.60" fill="#ba9256" /><rect x="93.50" y="19.50" width="2.40" height="7.40" fill="#ba9256" /><rect x="87.50" y="31.30" width="1.20" height="2.20" fill="#ba9256" /><rect x="102.90" y="14.60" width="10.50" height="5.10" fill="#f1e9e4" /><rect x="105.60" y="11.90" width="5.10" height="10.50" fill="#f1e9e4" /><rect x="114.90" y="14.60" width="10.50" height="5.10" fill="#f1e9e4" /><rect x="117.60" y="11.90" width="5.10" height="10.50" fill="#f1e9e4" /><rect x="102.90" y="25.70" width="10.50" height="5.10" fill="#f1e9e4" /><rect x="105.60" y="23.00" width="5.10" height="10.50" fill="#f1e9e4" /><rect x="114.90" y="25.70" width="10.50" height="5.10" fill="#f1e9e4" /><rect x="117.60" y="23.00" width="5.10" height="10.50" fill="#f1e9e4" /><rect x="112.05" y="20.60" width="4.20" height="4.20" fill="#ba9256" /><rect x="112.65" y="21.20" width="3.00" height="3.00" fill="#f1e9e4" /><path d="M129.6 11.9 C127.6 16.9 132.2 18.9 130.2 22.9 C128.0 26.9 131.6 28.9 129.6 33.5" fill="none" stroke="#f1e9e4" stroke-width="3.1"/><path d="M135.9 11.9 C133.9 16.9 138.5 18.9 136.5 22.9 C134.3 26.9 137.9 28.9 135.9 33.5" fill="none" stroke="#f1e9e4" stroke-width="3.1"/><path d="M142.4 11.9 C140.4 16.9 145.0 18.9 143.0 22.9 C140.8 26.9 144.4 28.9 142.4 33.5" fill="none" stroke="#f1e9e4" stroke-width="3.1"/><path d="M148.9 11.9 C146.9 16.9 151.5 18.9 149.5 22.9 C147.3 26.9 150.9 28.9 148.9 33.5" fill="none" stroke="#f1e9e4" stroke-width="3.1"/><rect x="155.30" y="11.90" width="22.40" height="21.60" fill="#f1e9e4" /><path d="M166.50 13.30 Q171.32 11.06 173.15 16.05 Q178.14 17.88 175.90 22.70 Q178.14 27.52 173.15 29.35 Q171.32 34.34 166.50 32.10 Q161.68 34.34 159.85 29.35 Q154.86 27.52 157.10 22.70 Q154.86 17.88 159.85 16.05 Q161.68 11.06 166.50 13.30 Z" fill="#ba9256"/><circle cx="166.5" cy="22.7" r="2.2" fill="#f1e9e4"/><path d="M180.9 11.9 H186.0 V33.5 H183.4 Q180.9 33.5 180.9 31.0 Z" fill="#f1e9e4"/><rect x="188.90" y="11.90" width="5.60" height="21.60" fill="#f1e9e4" /><rect x="197.50" y="11.90" width="5.60" height="21.60" fill="#f1e9e4" /></g></svg>
<div class="rb" style="left:81.3px;top:306.7px;width:158.7px;height:103.3px"></div>
<div class="rb" style="left:62.5px;top:521.7px;width:187.8px;height:102.9px"></div>
<div class="b" style="left:22.9px;top:746px;width:83.8px;height:33.0px;background:#92b73a"></div>
<div class="b" style="left:110.4px;top:746px;width:88.1px;height:33.0px;background:#a6a6a6"></div>
<div class="b" style="left:22.9px;top:781.8px;width:83.8px;height:33.0px;background:#43a5a7"></div>
<div class="b" style="left:110.4px;top:781.8px;width:88.1px;height:33.0px;background:#43a5a7"></div>
<div class="b" style="left:22.9px;top:895.1px;width:83.8px;height:32.4px;background:#92b73a"></div>
<div class="b" style="left:110.4px;top:895.1px;width:88.1px;height:32.4px;background:#a6a6a6"></div>
<div class="b" style="left:22.9px;top:930.4px;width:83.8px;height:33.0px;background:#43a5a7"></div>
<div class="b" style="left:110.4px;top:930.4px;width:88.1px;height:33.0px;background:#43a5a7"></div>
<div class="b" style="left:23.8px;top:1038.9px;width:83.7px;height:33.0px;background:#92b73a"></div>
<div class="b" style="left:111.3px;top:1038.9px;width:88.0px;height:33.0px;background:#a6a6a6"></div>
<div class="b" style="left:23.8px;top:1074.8px;width:83.7px;height:33.5px;background:#43a5a7"></div>
<div class="b" style="left:111.3px;top:1074.8px;width:88.0px;height:33.5px;background:#43a5a7"></div>
<div class="b" style="left:554.3px;top:746.8px;width:83.8px;height:33.0px;background:#92b73a"></div>
<div class="b" style="left:641.8px;top:746.8px;width:88.1px;height:33.0px;background:#a6a6a6"></div>
<div class="b" style="left:554.3px;top:782.4px;width:83.8px;height:33.2px;background:#43a5a7"></div>
<div class="b" style="left:641.8px;top:782.4px;width:88.1px;height:33.2px;background:#43a5a7"></div>
<div class="b" style="left:554.3px;top:896px;width:83.8px;height:33.0px;background:#92b73a"></div>
<div class="b" style="left:641.8px;top:896px;width:88.1px;height:33.0px;background:#a6a6a6"></div>
<div class="b" style="left:554.3px;top:931.8px;width:83.8px;height:33.0px;background:#43a5a7"></div>
<div class="b" style="left:641.8px;top:931.8px;width:88.1px;height:33.0px;background:#43a5a7"></div>
<div class="b" style="left:556.4px;top:1041.6px;width:83.4px;height:32.4px;background:#92b73a"></div>
<div class="b" style="left:643.8px;top:1041.6px;width:87.8px;height:32.4px;background:#a6a6a6"></div>
<div class="b" style="left:556.4px;top:1076.9px;width:83.4px;height:33.6px;background:#43a5a7"></div>
<div class="b" style="left:643.8px;top:1076.9px;width:87.8px;height:33.6px;background:#43a5a7"></div>
<svg width="767" height="1280" viewBox="0 0 767 1280">
<g style="filter:drop-shadow(0 1px 3px rgba(110,130,160,.4))"><path d="M668.28 449.03 A149.5 149.5 0 1 1 417.18 354.70 L463.38 403.91 A82 82 0 1 0 601.10 455.66 Z" fill="#ed7d31"/><path d="M417.18 354.70 A149.5 149.5 0 0 1 532.53 314.77 L526.65 382.01 A82 82 0 0 0 463.38 403.91 Z" fill="#a5a5a5"/><path d="M532.53 314.77 A149.5 149.5 0 0 1 668.28 449.03 L601.10 455.66 A82 82 0 0 0 526.65 382.01 Z" fill="#4472c4"/></g>
<path d="M239.1 917.5 L231.3 920.7 L228.2 926.9 L218.8 931.6 L221.9 937.9 L214.1 942.6 L209.4 947.3 L218.8 950.4 L231.3 952.0 L243.8 956.7 L256.3 962.9 L268.8 969.2 L284.5 975.4 L300.1 980.1 L315.8 983.3 L331.4 986.4 L347.1 988.0 L362.7 988.0 L378.4 984.8 L390.9 980.1 L398.7 975.4 L400.3 970.7 L397.1 962.9 L390.9 958.2 L384.6 955.1 L394.0 942.6 L375.2 926.9 L325.2 926.9 L293.9 911.3 L278.2 911.3 L262.6 917.5Z" fill="#07adef" stroke="#07adef" stroke-width="0.8" stroke-linejoin="round"/><path d="M300.9 811.1 L310.3 807.5 L319.7 805.2 L326.7 801.7 L330.2 795.8 L336.1 794.6 L340.8 797.0 L346.7 802.9 L350.2 808.7 L352.5 816.9 L357.2 824.0 L357.2 832.2 L350.2 838.1 L346.7 842.8 L420.0 860.0 L440.0 900.0 L430.0 950.0 L379.9 962.9 L372.1 964.5 L364.3 962.0 L358.0 964.5 L356.5 970.7 L350.2 973.9 L343.9 970.7 L337.7 966.0 L334.6 958.2 L326.7 956.7 L320.5 953.5 L315.8 944.1 L309.5 939.5 L300.1 936.3 L290.7 937.9 L282.9 936.3 L276.7 931.6 L278.2 925.4 L282.0 915.0 L292.0 880.0 L296.0 840.0Z" fill="#c09305" stroke="#c09305" stroke-width="0.8" stroke-linejoin="round"/><path d="M210.6 845.1 L214.1 838.1 L223.5 833.4 L232.9 831.0 L235.2 827.5 L244.6 826.3 L254.0 828.7 L262.2 825.1 L265.7 821.6 L262.2 816.9 L257.5 815.8 L255.1 811.1 L258.7 806.4 L264.5 804.0 L270.4 805.2 L270.4 811.1 L275.1 816.9 L278.6 820.5 L284.5 819.3 L293.9 814.6 L300.9 811.1 L303.3 816.9 L302.1 826.3 L300.9 833.4 L308.0 838.1 L310.3 845.1 L316.2 849.8 L317.3 856.8 L315.0 863.9 L317.3 870.9 L319.7 880.3 L315.0 887.3 L309.1 892.0 L303.3 897.9 L296.2 900.2 L290.4 906.1 L284.5 910.8 L281.0 915.5 L286.8 920.2 L289.2 923.7 L279.8 924.9 L268.1 924.9 L258.7 926.1 L246.9 927.2 L243.4 923.7 L238.7 919.0 L239.9 910.8 L243.4 901.4 L246.9 896.7 L241.1 893.2 L235.2 889.7 L231.7 883.8 L230.5 878.0 L224.6 875.6 L222.3 868.6 L221.1 861.5 L217.6 856.8 L212.9 852.1Z" fill="#a22b2c" stroke="#a22b2c" stroke-width="0.8" stroke-linejoin="round"/><path d="M339.9 842.4 L345.8 846.0 L355.2 847.1 L363.4 850.7 L369.3 856.5 L376.3 861.2 L383.4 864.7 L390.4 868.3 L399.8 874.1 L406.8 875.3 L410.4 882.3 L416.2 887.0 L422.1 892.9 L423.3 901.1 L425.6 905.8 L422.1 911.7 L418.6 917.5 L413.9 922.2 L417.4 929.3 L415.0 936.3 L410.4 943.4 L410.4 952.7 L413.9 959.8 L409.2 964.5 L401.0 966.8 L395.1 957.4 L388.1 952.7 L381.0 945.7 L375.1 938.7 L370.5 931.6 L364.6 926.9 L358.7 919.9 L361.1 915.2 L356.4 908.2 L349.3 902.3 L344.6 896.4 L345.8 891.7 L351.7 885.9 L345.8 880.0 L339.9 874.1 L336.4 865.9 L335.3 858.9 L339.9 851.8Z" fill="#7030a0" stroke="#7030a0" stroke-width="0.8" stroke-linejoin="round"/><path d="M407.0 875.1 L411.7 872.8 L418.7 866.9 L425.8 862.2 L434.0 857.5 L442.2 852.9 L446.9 848.2 L450.4 849.3 L457.4 855.2 L464.5 862.2 L471.5 868.1 L472.7 872.8 L483.3 874.0 L502.0 874.4 L525.5 874.4 L547.8 874.4 L545.4 883.4 L541.9 895.1 L538.4 906.8 L533.7 918.6 L530.2 925.6 L536.1 932.6 L538.4 937.3 L536.1 944.4 L539.6 953.8 L530.2 950.2 L520.8 947.9 L509.1 945.6 L497.3 944.4 L485.6 944.4 L473.9 946.7 L462.1 950.2 L450.4 954.9 L441.0 959.6 L431.6 964.3 L422.2 967.8 L412.9 970.2 L403.5 972.5 L398.8 974.9 L397.6 970.2 L401.1 967.8 L410.5 963.2 L414.0 958.5 L411.7 951.4 L410.5 942.0 L415.2 935.0 L416.4 928.0 L414.0 923.3 L418.7 916.2 L422.2 911.5 L424.6 904.5 L422.2 897.4 L418.7 890.4 L415.2 885.7 L409.3 881.0Z" fill="#febc72" stroke="#febc72" stroke-width="0.8" stroke-linejoin="round"/><path d="M338.8 776.7 L343.5 775.6 L350.5 781.4 L355.2 788.5 L361.1 797.9 L366.9 804.9 L374.0 810.8 L381.0 809.6 L390.4 810.8 L398.6 809.6 L402.1 814.3 L403.3 822.5 L401.0 830.7 L397.4 837.8 L403.3 844.8 L409.2 851.8 L416.2 853.0 L423.3 850.7 L430.3 848.3 L437.3 843.6 L443.2 838.9 L447.9 838.9 L449.1 842.4 L444.4 847.1 L438.5 853.0 L430.3 857.7 L423.3 862.4 L418.6 868.3 L411.5 873.0 L406.8 875.3 L399.8 874.1 L390.4 868.3 L383.4 864.7 L376.3 861.2 L369.3 856.5 L363.4 850.7 L355.2 847.1 L345.8 846.0 L339.9 842.4 L343.5 837.8 L349.3 834.2 L350.5 826.0 L350.5 820.1 L344.6 814.3 L343.5 807.2 L339.9 801.4 L341.1 795.5 L337.6 790.8Z" fill="#538134" stroke="#538134" stroke-width="0.8" stroke-linejoin="round"/>

<circle cx="665.0" cy="116.3" r="37.7" fill="none" stroke="#e0292f" stroke-width="9.6"/>
<g><path d="M658.1 98.9 L660.3 86.7 L670.4 98.9" fill="none" stroke="#1b1a2c" stroke-width="1.25" stroke-linecap="round" stroke-linejoin="round" /><path d="M669.6 97.5 L672.5 86.2 L685.7 107.7 L697.5 111.1" fill="none" stroke="#1b1a2c" stroke-width="1.3" stroke-linecap="round" stroke-linejoin="round" /><path d="M664.5 101.4 L687.4 102.6 L703.5 94.7 L710.3 81.9" fill="none" stroke="#1b1a2c" stroke-width="1.25" stroke-linecap="round" stroke-linejoin="round" /><path d="M689.9 120.9 L700.1 129.4 L709.4 134.5" fill="none" stroke="#1b1a2c" stroke-width="1.1" stroke-linecap="round" stroke-linejoin="round" /><path d="M641.1 104.3 L635.3 120.9 L631.4 130.3 L617.0 139.6 L600.1 148.1" fill="none" stroke="#1b1a2c" stroke-width="1.25" stroke-linecap="round" stroke-linejoin="round" /><path d="M646.2 120.9 L654.7 128.1 L646.2 144.7" fill="none" stroke="#1b1a2c" stroke-width="1.25" stroke-linecap="round" stroke-linejoin="round" /><path d="M658.1 115.8 L659.7 124.3 L651.8 144.3" fill="none" stroke="#1b1a2c" stroke-width="1.1" stroke-linecap="round" stroke-linejoin="round" /><path d="M638.7 101.4 L636.5 115.8 L635.7 126.0" fill="none" stroke="#1b1a2c" stroke-width="0.9" stroke-linecap="round" stroke-linejoin="round" /><path d="M644.5 115.8 L645.5 129.4 L645.8 139.6" fill="none" stroke="#1b1a2c" stroke-width="1.1" stroke-linecap="round" stroke-linejoin="round" /><path d="M661.9 101.4 L674.7 114.2 L692.5 133.6" fill="none" stroke="#1b1a2c" stroke-width="6.2" stroke-linecap="round" stroke-linejoin="round" /><ellipse cx="651.8" cy="108.2" rx="8.5" ry="10.5" fill="#1b1a2c" transform="rotate(-35 651.8 108.2)"/><circle cx="644.5" cy="115.8" r="3.6" fill="#1b1a2c"/><ellipse cx="660.3" cy="98.9" rx="5.5" ry="7" fill="#1b1a2c" transform="rotate(-40 660.3 98.9)"/><circle cx="669.6" cy="109.4" r="1.1" fill="#fff"/><circle cx="674.7" cy="114.5" r="1.1" fill="#fff"/><circle cx="679.4" cy="119.6" r="1.1" fill="#fff"/><circle cx="684.0" cy="124.7" r="1.1" fill="#fff"/><circle cx="688.2" cy="129.4" r="1.1" fill="#fff"/></g>
<path d="M639.8 90.6 L690.2 142.0" stroke="#e0292f" stroke-width="8.6"/>
<path d="M685.2 176.6 L693.3 167.2 L701.4 176.6" fill="none" stroke="#d9992b" stroke-width="2.6" stroke-linejoin="miter"/>
<path d="M687.2 176 L693.3 169.6 L699.4 176 V183.9 H695.2 V178.8 H691.4 V183.9 H687.2 Z" fill="#d9992b"/>
<circle cx="703.4" cy="178.8" r="4.5" fill="#3e7fc1" stroke="#fff" stroke-width="0.8"/>
<path d="M701.2 178.8 L702.9 180.6 L705.8 177" fill="none" stroke="#fff" stroke-width="1.3"/>
<path d="M690 165.6 Q700.5 160.5 709 171.5" fill="none" stroke="#5b89a8" stroke-width="0.8"/>
<path d="M24.00 1222.50 A10.2 10.2 0 0 1 34.20 1212.30" fill="none" stroke="#d4346d" stroke-width="3.6"/>
<path d="M28.60 1222.50 A5.6 5.6 0 0 1 34.20 1216.90" fill="none" stroke="#1b98a3" stroke-width="3.0"/>
<path d="M47.50 1212.30 A10.2 10.2 0 0 1 57.70 1222.50" fill="none" stroke="#1a9b96" stroke-width="3.6"/>
<path d="M47.50 1216.90 A5.6 5.6 0 0 1 53.10 1222.50" fill="none" stroke="#8b1a6b" stroke-width="3.0"/>
<path d="M57.70 1235.80 A10.2 10.2 0 0 1 47.50 1246.00" fill="none" stroke="#3f6dc0" stroke-width="3.6"/>
<path d="M53.10 1235.80 A5.6 5.6 0 0 1 47.50 1241.40" fill="none" stroke="#efd03a" stroke-width="3.0"/>
<path d="M34.20 1246.00 A10.2 10.2 0 0 1 24.00 1235.80" fill="none" stroke="#6bb22b" stroke-width="3.6"/>
<path d="M34.20 1241.40 A5.6 5.6 0 0 1 28.60 1235.80" fill="none" stroke="#f0a21e" stroke-width="3.0"/>
<rect x="37.15" y="1210.70" width="7.4" height="7.4" fill="#9a1c47"/><circle cx="40.85" cy="1214.40" r="2.3" fill="#fff"/><circle cx="40.85" cy="1214.40" r="1" fill="#9a1c47"/>
<rect x="37.15" y="1240.20" width="7.4" height="7.4" fill="#9a1c47"/><rect x="37.95" y="1241.50" width="5.80" height="0.9" fill="#fff"/><rect x="37.95" y="1243.60" width="5.80" height="0.9" fill="#fff"/><rect x="37.95" y="1245.70" width="5.80" height="0.9" fill="#fff"/>
<rect x="22.40" y="1225.45" width="7.4" height="7.4" fill="#9a1c47"/><path d="M23.90 1226.65 L26.10 1229.15 L23.90 1231.65" stroke="#fff" stroke-width="1.1" fill="none"/>
<rect x="51.90" y="1225.45" width="7.4" height="7.4" fill="#9a1c47"/><path d="M53.70 1226.95 V1230.85 H57.50 V1226.95" stroke="#fff" stroke-width="1" fill="none"/>
<rect x="33.00" y="1221.30" width="7.4" height="7.4" fill="#9a1c47"/><rect x="33.80" y="1222.60" width="5.80" height="0.9" fill="#fff"/><rect x="33.80" y="1224.70" width="5.80" height="0.9" fill="#fff"/><rect x="33.80" y="1226.80" width="5.80" height="0.9" fill="#fff"/>
<rect x="41.30" y="1221.30" width="7.4" height="7.4" fill="#9a1c47"/><rect x="42.90" y="1222.90" width="4.20" height="4.20" fill="#fff"/><rect x="44.20" y="1224.20" width="1.60" height="1.60" fill="#9a1c47"/>
<rect x="33.00" y="1229.60" width="7.4" height="7.4" fill="#9a1c47"/><rect x="34.30" y="1230.40" width="0.9" height="5.80" fill="#fff"/><rect x="36.40" y="1230.40" width="0.9" height="5.80" fill="#fff"/><rect x="38.50" y="1230.40" width="0.9" height="5.80" fill="#fff"/>
<rect x="41.30" y="1229.60" width="7.4" height="7.4" fill="#9a1c47"/><path d="M42.50 1233.30 H47.50 M45.00 1230.80 V1235.80" stroke="#fff" stroke-width="1.1"/>
<rect x="201.6" y="1211.2" width="1.5" height="36" fill="#a12047"/>
<circle cx="417.1" cy="1199.2" r="6.1" fill="#a01d48"/>
<path d="M411.15 1223.20 L415.02 1221.79 L419.95 1228.48 L425.23 1235.17 L430.74 1241.39 L435.20 1246.67 L435.20 1248.08 L411.15 1248.08 Z" fill="#a01d48"/>
<path d="M417.60 1208.18 L441.30 1208.18 L442.48 1214.75 L446.35 1222.97 L449.28 1229.07 L453.39 1227.90 L461.02 1231.18 L465.71 1237.28 L465.24 1242.92 L461.02 1245.73 L452.80 1243.38 L447.17 1241.04 L445.29 1235.17 L439.90 1231.65 L435.20 1225.78 L429.34 1219.92 L424.05 1214.52 L420.18 1211.94 Z" fill="#a01d48"/>
<path d="M415.72 1209.83 L417.95 1209.36 L419.95 1215.57 L422.29 1223.20 L420.18 1224.61 L417.60 1217.34 Z" fill="#a01d48"/>
<path d="M453.39 1207.95 L465.71 1207.95 L465.71 1245.97 L453.39 1245.97 Z" fill="#a01d48"/>
<path d="M450.46 1245.26 L452.33 1244.79 L452.80 1246.44 L450.93 1246.67 Z" fill="#a01d48"/>
<path d="M458.67 1245.03 L460.55 1244.56 L461.02 1245.97 L459.14 1246.44 Z" fill="#a01d48"/>
<path d="M465.4 1246 L483 1208.2 H496 L511.2 1246 H497.6 L495.8 1240.2 H483.6 L481.6 1246 Z M486.2 1232 H493.2 L489.7 1220 Z" fill="#a01d48" fill-rule="evenodd"/>
<path d="M503.6 1208.2 H516.2 L520.8 1231 L525.4 1208.2 H534.2 L524.8 1246 H513.8 Z" fill="#a01d48"/>
<path d="M531.5 1208.2 H557.2 V1217 H543 V1223 H556.2 V1231.2 H543 V1237.4 H557.4 V1246 H531.5 Z" fill="#a01d48"/>
<g><path d="M608.19 1201.88 L611.43 1215.86 L604.96 1215.86 Z" fill="#a01d48"/><ellipse cx="608.19" cy="1218.78" rx="6.2" ry="4.4" fill="#a01d48"/><circle cx="604.86" cy="1217.43" r="1.35" fill="#fff"/><circle cx="611.53" cy="1217.43" r="1.35" fill="#fff"/><path d="M598.60 1223.68 L603.29 1220.55 L613.20 1220.55 L617.89 1223.68 L608.19 1236.72 Z" fill="#a01d48"/><ellipse cx="608.19" cy="1240.89" rx="6.9" ry="8" fill="#a01d48"/><path d="M608.19 1236.20 Q613.72 1232.55 613.72 1239.85 Q613.20 1245.07 608.19 1247.46 Q603.29 1245.07 602.66 1239.85 Q602.66 1232.55 608.19 1236.20 Z" fill="#fff"/><ellipse cx="590.25" cy="1232.24" rx="13.4" ry="4.3" fill="none" stroke="#a01d48" stroke-width="2.3" transform="rotate(-38 590.25 1232.24)"/><ellipse cx="626.13" cy="1232.24" rx="13.4" ry="4.3" fill="none" stroke="#a01d48" stroke-width="2.3" transform="rotate(38 626.13 1232.24)"/><path d="M616.43 1222.95 L620.92 1219.62 L620.92 1213.57 L624.78 1213.57" fill="none" stroke="#a01d48" stroke-width="1.7" stroke-linejoin="miter" stroke-linecap="butt"/><path d="M614.97 1240.89 L620.92 1243.19 L620.92 1248.82 L624.78 1248.82" fill="none" stroke="#a01d48" stroke-width="1.7" stroke-linejoin="miter" stroke-linecap="butt"/><path d="M612.57 1246.32 L617.79 1249.86 L617.79 1256.12 L621.65 1256.12" fill="none" stroke="#a01d48" stroke-width="1.7" stroke-linejoin="miter" stroke-linecap="butt"/><path d="M599.95 1222.95 L595.47 1219.62 L595.47 1213.57 L591.61 1213.57" fill="none" stroke="#a01d48" stroke-width="1.7" stroke-linejoin="miter" stroke-linecap="butt"/><path d="M601.41 1240.89 L595.47 1243.19 L595.47 1248.82 L591.61 1248.82" fill="none" stroke="#a01d48" stroke-width="1.7" stroke-linejoin="miter" stroke-linecap="butt"/><path d="M603.81 1246.32 L598.60 1249.86 L598.60 1256.12 L594.74 1256.12" fill="none" stroke="#a01d48" stroke-width="1.7" stroke-linejoin="miter" stroke-linecap="butt"/></g>
<rect x="640.8" y="1237.1" width="107.2" height="1.5" fill="#a01d48"/>
</svg>
<div class="t" style="left:171.92px;top:99.25px;font:bold 60.76px/1 'Liberation Sans',sans-serif;color:#a12047;transform:scaleX(1.2607);-webkit-text-stroke:2.6px #a12047;">Dengue</div>
<div class="t" style="left:28.05px;top:183.25px;font:bold 23.26px/1 'Liberation Sans',sans-serif;color:#a12047;transform:scaleX(1.1734);-webkit-text-stroke:0.4px #a12047;">SEMANA EPIDEMIOLÓGICA #35 DEL 2025</div>
<div class="t" style="left:117.03px;top:241.25px;font:bold 61.88px/1 'Liberation Sans',sans-serif;color:#a12047;transform:scaleX(1.2378);-webkit-text-stroke:2.4px #a12047;">34</div>
<div class="t" style="left:104.36px;top:449.25px;font:bold 63.73px/1 'Liberation Sans',sans-serif;color:#a12047;transform:scaleX(1.0442);-webkit-text-stroke:2.4px #a12047;">127</div>
<div class="t" style="left:104.52px;top:322.25px;font:bold 34.74px/1 'Liberation Sans',sans-serif;color:#fff;transform:scaleX(1.0038);-webkit-text-stroke:0.5px #fff;">Casos</div>
<div class="t" style="left:91.62px;top:360.25px;font:bold 34.74px/1 'Liberation Sans',sans-serif;color:#fff;transform:scaleX(1.0701);-webkit-text-stroke:0.5px #fff;">nuevos</div>
<div class="t" style="left:114.05px;top:544.25px;font:bold 26.60px/1 'Liberation Sans',sans-serif;color:#fff;transform:scaleX(1.0635);-webkit-text-stroke:0.4px #fff;">Casos</div>
<div class="t" style="left:68.14px;top:574.25px;font:bold 26.60px/1 'Liberation Sans',sans-serif;color:#fff;transform:scaleX(1.1359);-webkit-text-stroke:0.4px #fff;">acumulados</div>
<div class="t" style="left:410.11px;top:231.25px;font:bold 32.85px/1 'Liberation Sans',sans-serif;color:#a5a5a5;transform:scaleX(1.0118);-webkit-text-stroke:0.6px #a5a5a5;">17</div>
<div class="t" style="left:392.23px;top:264.25px;font:bold 15.26px/1 'Liberation Sans',sans-serif;color:#1c1c1c;transform:scaleX(1.2431);">Dengue</div>
<div class="t" style="left:403.97px;top:283.25px;font:bold 15.12px/1 'Liberation Sans',sans-serif;color:#1c1c1c;transform:scaleX(1.1748);">Grave</div>
<div class="t" style="left:413.22px;top:303.25px;font:bold 15.84px/1 'Liberation Sans',sans-serif;color:#1c1c1c;transform:scaleX(1.1155);">(DG)</div>
<div class="t" style="left:669.73px;top:289.25px;font:bold 32.34px/1 'Liberation Sans',sans-serif;color:#4472c4;transform:scaleX(1.1813);-webkit-text-stroke:0.6px #4472c4;">28</div>
<div class="t" style="left:653.71px;top:323.25px;font:bold 15.26px/1 'Liberation Sans',sans-serif;color:#1c1c1c;transform:scaleX(1.2615);">Dengue</div>
<div class="t" style="left:651.20px;top:342.25px;font:bold 15.41px/1 'Liberation Sans',sans-serif;color:#1c1c1c;transform:scaleX(1.1619);">No Grave</div>
<div class="t" style="left:667.91px;top:362.25px;font:bold 15.84px/1 'Liberation Sans',sans-serif;color:#1c1c1c;transform:scaleX(1.1236);">(DNG)</div>
<div class="t" style="left:317.44px;top:491.25px;font:bold 32.06px/1 'Liberation Sans',sans-serif;color:#ed7d31;transform:scaleX(1.1986);-webkit-text-stroke:0.6px #ed7d31;">82</div>
<div class="t" style="left:300.92px;top:525.25px;font:bold 15.84px/1 'Liberation Sans',sans-serif;color:#1c1c1c;transform:scaleX(1.2064);">Dengue</div>
<div class="t" style="left:287.07px;top:544.25px;font:bold 15.84px/1 'Liberation Sans',sans-serif;color:#1c1c1c;transform:scaleX(1.1184);">Con Signos</div>
<div class="t" style="left:292.47px;top:563.25px;font:bold 15.84px/1 'Liberation Sans',sans-serif;color:#1c1c1c;transform:scaleX(1.1659);">De Alarma</div>
<div class="t" style="left:310.34px;top:582.25px;font:bold 15.84px/1 'Liberation Sans',sans-serif;color:#1c1c1c;transform:scaleX(1.0923);">(DCSA)</div>
<div class="t" style="left:82.92px;top:638.25px;font:bold 41.72px/1 'Liberation Sans',sans-serif;color:#ba9356;transform:scaleX(1.1441);-webkit-text-stroke:1.3px #ba9356;">Jurisdicciones Sanitarias</div>
<div class="t" style="left:21.75px;top:703.25px;font:bold 21.08px/1 'Liberation Sans',sans-serif;color:#a12047;transform:scaleX(1.1871);-webkit-text-stroke:0.7px #a12047;">Valles Centrales</div>
<div class="t" style="left:68.10px;top:843.25px;font:bold 24.85px/1 'Liberation Sans',sans-serif;color:#a12047;transform:scaleX(1.2248);-webkit-text-stroke:0.9px #a12047;">Costa</div>
<div class="t" style="left:67.14px;top:1001.25px;font:bold 25.87px/1 'Liberation Sans',sans-serif;color:#a12047;transform:scaleX(1.2945);-webkit-text-stroke:0.9px #a12047;">Istmo</div>
<div class="t" style="left:586.55px;top:702.25px;font:bold 27.03px/1 'Liberation Sans',sans-serif;color:#a12047;transform:scaleX(1.2158);-webkit-text-stroke:0.9px #a12047;">Mixteca</div>
<div class="t" style="left:599.30px;top:857.25px;font:bold 28.05px/1 'Liberation Sans',sans-serif;color:#a12047;transform:scaleX(1.1278);-webkit-text-stroke:0.9px #a12047;">Sierra</div>
<div class="t" style="left:571.19px;top:1005.25px;font:bold 26.74px/1 'Liberation Sans',sans-serif;color:#a12047;transform:scaleX(1.2549);-webkit-text-stroke:0.9px #a12047;">Tuxtepec</div>
<div class="t" style="left:594.89px;top:169.25px;font:bold 17.44px/1 'Liberation Sans',sans-serif;color:#3c6f86;transform:scaleX(1.3377);-webkit-text-stroke:0.9px #3c6f86;">¡MI CAS</div>
<div class="t" style="left:596.43px;top:189.25px;font:bold 17.44px/1 'Liberation Sans',sans-serif;color:#d5a03c;transform:scaleX(1.3286);-webkit-text-stroke:0.9px #d5a03c;">SIN</div>
<div class="t" style="left:638.55px;top:189.25px;font:bold 17.44px/1 'Liberation Sans',sans-serif;color:#3c6f86;transform:scaleX(1.3288);-webkit-text-stroke:0.9px #3c6f86;">DENGUE!</div>
<div class="t" style="left:594.52px;top:208.25px;font:bold 15.55px/1 'Liberation Sans',sans-serif;color:#b3204e;transform:scaleX(0.8581);">Lava, Tapa, Voltea y Tira</div>
<div class="t" style="left:69.94px;top:1215.25px;font:bold 26.87px/1 'Liberation Serif',serif;color:#a12047;transform:scaleX(0.9385);-webkit-text-stroke:1.0px #a12047;letter-spacing:0.04em;">OAXACA</div>
<div class="t" style="left:79.16px;top:1241.25px;font:bold 5.52px/1 'Liberation Sans',sans-serif;color:#ba9356;transform:scaleX(1.0801);letter-spacing:0.28em;">GOBIERNO DEL ESTADO</div>
<div class="t" style="left:218.72px;top:1218.25px;font:bold 13.13px/1 'Liberation Serif',serif;color:#a12047;transform:scaleX(1.0719);-webkit-text-stroke:0.5px #a12047;letter-spacing:0.08em;">SALUD</div>
<div class="t" style="left:218.99px;top:1233.25px;font:normal 5.89px/1 'Liberation Sans',sans-serif;color:#ba9356;transform:scaleX(1.1342);-webkit-text-stroke:0.15px #ba9356;letter-spacing:0.12em;">SECRETARÍA DE SALUD</div>
<div class="t" style="left:218.99px;top:1240.25px;font:normal 5.89px/1 'Liberation Sans',sans-serif;color:#ba9356;transform:scaleX(1.1191);-webkit-text-stroke:0.15px #ba9356;letter-spacing:0.12em;">SERVICIOS DE SALUD DE OAXACA</div>
<div class="t" style="left:382.47px;top:1203.25px;font:bold 49.43px/1 'Liberation Sans',sans-serif;color:#a01d48;transform:scaleX(0.9137);-webkit-text-stroke:3.0px #a01d48;">S</div>
<div class="t" style="left:382.55px;top:1251.25px;font:normal 7.33px/1 'Liberation Serif',serif;color:#b7ab96;transform:scaleX(0.9156);">SISTEMA NACIONAL DE VIGILANCIA EPIDEMIOLÓGICA</div>
<div class="t" style="left:640.72px;top:1209.25px;font:normal 11.19px/1 'Liberation Sans',sans-serif;color:#a01d48;transform:scaleX(0.9792);-webkit-text-stroke:0.2px #a01d48;">DEPARTAMENTO DE</div>
<div class="t" style="left:642.78px;top:1219.25px;font:bold 18.46px/1 'Liberation Sans',sans-serif;color:#a01d48;transform:scaleX(1.0441);-webkit-text-stroke:0.6px #a01d48;">VECTORES</div>
<div class="t" style="left:642.45px;top:1242.25px;font:bold 5.23px/1 'Liberation Sans',sans-serif;color:#ba9356;transform:scaleX(1.0218);letter-spacing:0.1em;">SERVICIOS DE SALUD DE OAXACA</div>
<div class="t" style="left:249.98px;top:869.25px;font:normal 6.69px/1 'Liberation Sans',sans-serif;color:#fbfbfb;transform:scaleX(1.1640);-webkit-text-stroke:0.2px #fbfbfb;">Nº. 5 Mixteca</div>
<div class="t" style="left:308.62px;top:909.25px;font:normal 6.69px/1 'Liberation Sans',sans-serif;color:#fbfbfb;transform:scaleX(1.0944);-webkit-text-stroke:0.2px #fbfbfb;">Nº. 1 Valles</div>
<div class="t" style="left:308.82px;top:917.25px;font:normal 6.69px/1 'Liberation Sans',sans-serif;color:#fbfbfb;transform:scaleX(1.1826);-webkit-text-stroke:0.2px #fbfbfb;">Centrales</div>
<div class="t" style="left:255.78px;top:950.25px;font:normal 6.69px/1 'Liberation Sans',sans-serif;color:#fbfbfb;transform:scaleX(1.1484);-webkit-text-stroke:0.2px #fbfbfb;">Nº. 4 Costa</div>
<div class="t" style="left:359.89px;top:820.25px;font:normal 6.69px/1 'Liberation Sans',sans-serif;color:#fbfbfb;transform:scaleX(1.1296);-webkit-text-stroke:0.2px #fbfbfb;">Nº. 3</div>
<div class="t" style="left:360.34px;top:829.25px;font:normal 6.69px/1 'Liberation Sans',sans-serif;color:#fbfbfb;transform:scaleX(1.1937);-webkit-text-stroke:0.2px #fbfbfb;">Tuxtepec</div>
<div class="t" style="left:362.39px;top:893.25px;font:normal 6.69px/1 'Liberation Sans',sans-serif;color:#fbfbfb;transform:scaleX(1.1304);-webkit-text-stroke:0.2px #fbfbfb;">Nº. 6 Sierra</div>
<div class="t" style="left:442.67px;top:905.25px;font:normal 6.69px/1 'Liberation Sans',sans-serif;color:#fdeedd;transform:scaleX(1.1860);-webkit-text-stroke:0.2px #fdeedd;">Nº. 2 Istmo</div>
<div class="t" style="left:56.32px;top:752.25px;font:bold 22.97px/1 'Liberation Sans',sans-serif;color:#fff;transform:scaleX(0.9803);-webkit-text-stroke:0.9px #fff;">14</div>
<div class="t" style="left:151.91px;top:752.25px;font:bold 22.97px/1 'Liberation Sans',sans-serif;color:#111;transform:scaleX(0.6900);-webkit-text-stroke:0.9px #111;">1</div>
<div class="t" style="left:42.10px;top:787.25px;font:bold 11.85px/1 'Liberation Sans',sans-serif;color:#fff;transform:scaleX(1.1363);-webkit-text-stroke:0.45px #fff;">CASOS</div>
<div class="t" style="left:120.65px;top:787.25px;font:bold 11.85px/1 'Liberation Sans',sans-serif;color:#fff;transform:scaleX(1.1503);-webkit-text-stroke:0.45px #fff;">DECESOS</div>
<div class="t" style="left:56.40px;top:901.25px;font:bold 21.04px/1 'Liberation Sans',sans-serif;color:#fff;transform:scaleX(1.0298);-webkit-text-stroke:0.9px #fff;">18</div>
<div class="t" style="left:144.28px;top:901.25px;font:bold 21.04px/1 'Liberation Sans',sans-serif;color:#111;transform:scaleX(1.3660);-webkit-text-stroke:0.9px #111;">0</div>
<div class="t" style="left:42.12px;top:936.25px;font:bold 11.26px/1 'Liberation Sans',sans-serif;color:#fff;transform:scaleX(1.1955);-webkit-text-stroke:0.45px #fff;">CASOS</div>
<div class="t" style="left:120.66px;top:936.25px;font:bold 11.26px/1 'Liberation Sans',sans-serif;color:#fff;transform:scaleX(1.2105);-webkit-text-stroke:0.45px #fff;">DECESOS</div>
<div class="t" style="left:56.68px;top:1045.25px;font:bold 22.97px/1 'Liberation Sans',sans-serif;color:#fff;transform:scaleX(1.1554);-webkit-text-stroke:0.9px #fff;">7</div>
<div class="t" style="left:135.66px;top:1046.25px;font:bold 22.32px/1 'Liberation Sans',sans-serif;color:#111;transform:scaleX(1.2497);-webkit-text-stroke:0.9px #111;">0</div>
<div class="t" style="left:43.52px;top:1080.25px;font:bold 11.26px/1 'Liberation Sans',sans-serif;color:#fff;transform:scaleX(1.1753);-webkit-text-stroke:0.45px #fff;">CASOS</div>
<div class="t" style="left:121.86px;top:1080.25px;font:bold 11.26px/1 'Liberation Sans',sans-serif;color:#fff;transform:scaleX(1.2161);-webkit-text-stroke:0.45px #fff;">DECESOS</div>
<div class="t" style="left:596.03px;top:754.25px;font:bold 22.38px/1 'Liberation Sans',sans-serif;color:#fff;transform:scaleX(1.1633);-webkit-text-stroke:0.9px #fff;">4</div>
<div class="t" style="left:674.72px;top:754.25px;font:bold 22.38px/1 'Liberation Sans',sans-serif;color:#111;transform:scaleX(0.7067);-webkit-text-stroke:0.9px #111;">1</div>
<div class="t" style="left:574.12px;top:787.25px;font:bold 11.41px/1 'Liberation Sans',sans-serif;color:#fff;transform:scaleX(1.1671);-webkit-text-stroke:0.45px #fff;">CASOS</div>
<div class="t" style="left:652.66px;top:787.25px;font:bold 11.41px/1 'Liberation Sans',sans-serif;color:#fff;transform:scaleX(1.1831);-webkit-text-stroke:0.45px #fff;">DECESOS</div>
<div class="t" style="left:596.61px;top:901.25px;font:bold 22.82px/1 'Liberation Sans',sans-serif;color:#fff;transform:scaleX(0.7989);-webkit-text-stroke:0.9px #fff;">1</div>
<div class="t" style="left:669.94px;top:902.25px;font:bold 22.17px/1 'Liberation Sans',sans-serif;color:#111;transform:scaleX(1.3022);-webkit-text-stroke:0.9px #111;">0</div>
<div class="t" style="left:574.12px;top:937.25px;font:bold 11.41px/1 'Liberation Sans',sans-serif;color:#fff;transform:scaleX(1.1671);-webkit-text-stroke:0.45px #fff;">CASOS</div>
<div class="t" style="left:652.66px;top:937.25px;font:bold 11.41px/1 'Liberation Sans',sans-serif;color:#fff;transform:scaleX(1.1831);-webkit-text-stroke:0.45px #fff;">DECESOS</div>
<div class="t" style="left:588.49px;top:1048.25px;font:bold 22.27px/1 'Liberation Sans',sans-serif;color:#fff;transform:scaleX(1.1875);-webkit-text-stroke:0.9px #fff;">83</div>
<div class="t" style="left:674.24px;top:1048.25px;font:bold 22.32px/1 'Liberation Sans',sans-serif;color:#111;transform:scaleX(1.2931);-webkit-text-stroke:0.9px #111;">0</div>
<div class="t" style="left:575.62px;top:1082.25px;font:bold 11.26px/1 'Liberation Sans',sans-serif;color:#fff;transform:scaleX(1.1955);-webkit-text-stroke:0.45px #fff;">CASOS</div>
<div class="t" style="left:654.67px;top:1082.25px;font:bold 11.26px/1 'Liberation Sans',sans-serif;color:#fff;transform:scaleX(1.1940);-webkit-text-stroke:0.45px #fff;">DECESOS</div>

</div>
</body></html>
